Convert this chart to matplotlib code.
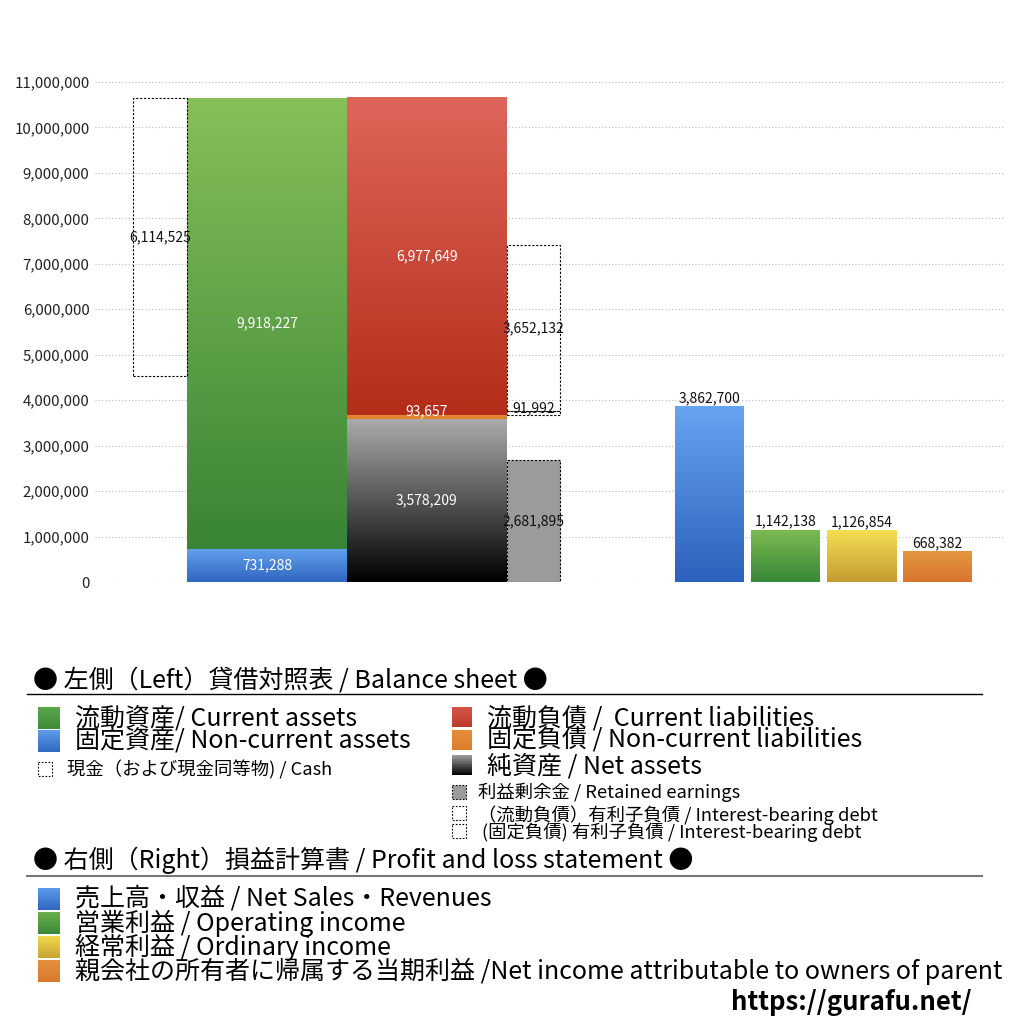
import matplotlib.pyplot as plt
import numpy as np
from matplotlib.patches import Rectangle
from matplotlib.colors import to_rgb

plt.rcParams['font.family'] = ['Noto Sans CJK JP', 'DejaVu Sans']

# balance sheet (left side)
current_assets = 9918227
noncurrent_assets = 731288
cash = 6114525
current_liab = 6977649
noncurrent_liab = 93657
net_assets = 3578209
retained_earnings = 2681895
ibd_current = 3652132
ibd_noncurrent = 91992

# profit and loss (right side)
pl_values = [3862700, 1142138, 1126854, 668382]

yticks = list(range(0, 11000001, 1000000))


def grad(ax, l, r, b, t, c_top, c_bot, z=2):
    # vertical gradient filled rect, row 0 = top colour
    c1, c2 = np.array(to_rgb(c_top)), np.array(to_rgb(c_bot))
    f = np.linspace(0, 1, 128)[:, None, None]
    img = c1 * (1 - f) + c2 * f
    ax.imshow(img, extent=(l, r, b, t), aspect='auto',
              interpolation='bilinear', zorder=z)


def fmt(v):
    return f"{v:,}"


fig = plt.figure(figsize=(10.24, 10.24), dpi=100)

# overlay for legend (pixel coordinates)
lax = fig.add_axes([0, 0, 1, 1])
lax.set_xlim(0, 1024)
lax.set_ylim(1024, 0)
lax.axis('off')

ax = fig.add_axes([95/1024, (1024-582)/1024, 910/1024, 500/1024])
for s in ax.spines.values():
    s.set_visible(False)
ax.set_yticks(yticks)
ax.set_yticklabels([fmt(v) for v in yticks], fontsize=10.8, color='#222222')
ax.tick_params(axis='y', length=0, pad=4)
ax.set_xticks([])
ax.yaxis.grid(True, linestyle=(0, (1, 2)), color='#bbbbbb', linewidth=0.8)
ax.set_axisbelow(True)

total = current_assets + noncurrent_assets
dash = (0, (2, 1.5))
vfs = 10

# cash box
cb = total - cash
ax.add_patch(Rectangle((3.8, cb), 5.4, cash, fill=False, edgecolor='black',
                       linestyle=dash, linewidth=0.8, zorder=3))
ax.text(6.5, cb + cash/2, fmt(cash), ha='center', va='center', fontsize=vfs, color='#111111', zorder=5)

# assets
grad(ax, 9.2, 25.2, 0, noncurrent_assets, '#62a2ee', '#2f66bf')
grad(ax, 9.2, 25.2, noncurrent_assets, total, '#86c058', '#398436')
ax.text(17.2, noncurrent_assets/2, fmt(noncurrent_assets), ha='center', va='center', fontsize=vfs, color='white', zorder=5)
ax.text(17.2, noncurrent_assets + current_assets/2, fmt(current_assets), ha='center', va='center', fontsize=vfs, color='white', zorder=5)

# liabilities + net assets
grad(ax, 25.2, 41.2, 0, net_assets, '#aaaaaa', '#000000')
b2 = net_assets + noncurrent_liab
grad(ax, 25.2, 41.2, net_assets, b2, '#e58c36', '#e0802c')
grad(ax, 25.2, 41.2, b2, b2 + current_liab, '#dd665a', '#b42d19')
ax.text(33.2, net_assets/2, fmt(net_assets), ha='center', va='center', fontsize=vfs, color='white', zorder=5)
ax.text(33.2, net_assets + noncurrent_liab/2 + 130000, fmt(noncurrent_liab), ha='center', va='center', fontsize=vfs, color='white', zorder=5)
ax.text(33.2, b2 + current_liab/2, fmt(current_liab), ha='center', va='center', fontsize=vfs, color='white', zorder=5)

# retained earnings and interest-bearing debt
ax.add_patch(Rectangle((41.2, 0), 5.3, retained_earnings, facecolor='#9b9b9b', edgecolor='black',
                       linestyle=dash, linewidth=0.8, zorder=3))
ax.text(43.85, retained_earnings/2, fmt(retained_earnings), ha='center', va='center', fontsize=vfs, color='#111111', zorder=5)
ax.add_patch(Rectangle((41.2, b2), 5.3, ibd_noncurrent, fill=False, edgecolor='black',
                       linestyle=dash, linewidth=0.8, zorder=3))
ax.text(43.85, b2 + ibd_noncurrent/2 + 100000, fmt(ibd_noncurrent), ha='center', va='center', fontsize=vfs, color='#111111', zorder=5)
b3 = b2 + ibd_noncurrent
ax.add_patch(Rectangle((41.2, b3), 5.3, ibd_current, fill=False, edgecolor='black',
                       linestyle=dash, linewidth=0.8, zorder=3))
ax.text(43.85, b3 + ibd_current/2, fmt(ibd_current), ha='center', va='center', fontsize=vfs, color='#111111', zorder=5)

# P&L bars
pl_x = [61.45, 69.05, 76.65, 84.25]
pl_cols = [('#67a4f0', '#2c61bd'), ('#7cba52', '#388838'),
           ('#f4de52', '#c49d32'), ('#e4973f', '#d8742e')]
for x, v, (ct, cbot) in zip(pl_x, pl_values, pl_cols):
    grad(ax, x - 3.45, x + 3.45, 0, v, ct, cbot)
    ax.text(x, v + 30000, fmt(v), ha='center', va='bottom', fontsize=vfs, color='#111111', zorder=5)

ax.set_xlim(0, 91)
ax.set_ylim(0, 11000000)

# ---- legend block ----
tfs = 18
lax.text(33, 680, '● 左側（Left）貸借対照表 / Balance sheet ●', fontsize=tfs, va='center', ha='left')
lax.plot([27, 982], [694, 694], color='black', linewidth=1)
lax.text(33, 860, '● 右側（Right）損益計算書 / Profit and loss statement ●', fontsize=tfs, va='center', ha='left')
lax.plot([27, 982], [876, 876], color='#777777', linewidth=1.5)


def sq(x, y, s, ct, cbot):
    grad(lax, x, x + s, y + s, y, ct, cbot)


def dsq(x, y, s, fc='none'):
    lax.add_patch(Rectangle((x, y), s, s, facecolor=fc, edgecolor='black',
                            linestyle=(0, (1.5, 1.5)), linewidth=0.8))


big = 18
small = 13.2
sq(38, 707, 22, '#5aa84a', '#3d8a38')
lax.text(75, 718, '流動資産/ Current assets', fontsize=big, va='center')
sq(38, 730, 22, '#5d9ceb', '#3169c2')
lax.text(75, 741, '固定資産/ Non-current assets', fontsize=big, va='center')
dsq(38, 762, 14)
lax.text(67, 770, '現金（および現金同等物) / Cash', fontsize=small, va='center')

sq(452, 707, 20, '#d4564a', '#bd3a28')
lax.text(487, 718, '流動負債 /  Current liabilities', fontsize=big, va='center')
sq(452, 730, 20, '#e58f3a', '#dc7d2b')
lax.text(487, 741, '固定負債 / Non-current liabilities', fontsize=big, va='center')
sq(452, 755, 20, '#a0a0a0', '#000000')
lax.text(487, 766, '純資産 / Net assets', fontsize=big, va='center')
dsq(452, 785, 14, fc='#9b9b9b')
lax.text(478, 792, '利益剰余金 / Retained earnings', fontsize=small, va='center')
dsq(452, 806, 14)
lax.text(478, 815, '（流動負債）有利子負債 / Interest-bearing debt', fontsize=small, va='center')
dsq(452, 824, 14)
lax.text(482, 832, '(固定負債) 有利子負債 / Interest-bearing debt', fontsize=small, va='center')

pl_legend = ['売上高・収益 / Net Sales・Revenues',
             '営業利益 / Operating income',
             '経常利益 / Ordinary income',
             '親会社の所有者に帰属する当期利益 /Net income attributable to owners of parent']
pl_sq = [('#5b9bea', '#3066c0'), ('#6cb04c', '#3a8838'),
         ('#f0d84e', '#c9a434'), ('#e3923c', '#d97830')]
for i, (lab, (ct, cbot)) in enumerate(zip(pl_legend, pl_sq)):
    y = 899 + i * 24
    sq(38, y - 11, 22, ct, cbot)
    lax.text(75, y, lab, fontsize=big, va='center')

lax.text(972, 1003, 'https://gurafu.net/', fontsize=18.5, fontweight='bold', ha='right', va='center')

fig.savefig('out.png', dpi=100)
